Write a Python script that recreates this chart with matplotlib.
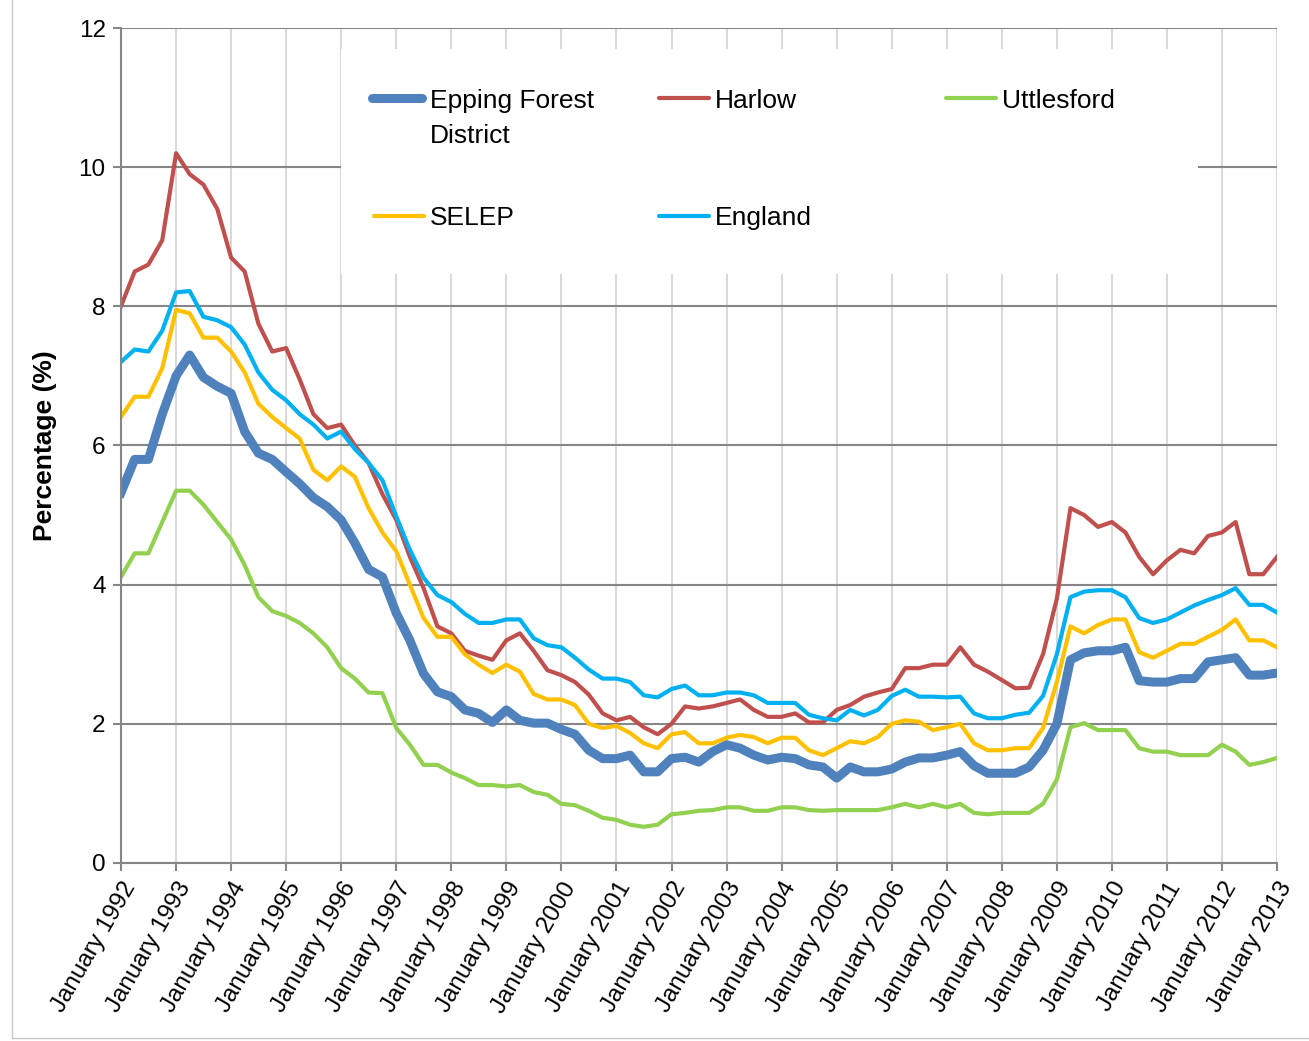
import numpy as np
import pandas as pd
import matplotlib
matplotlib.use('Agg')
import matplotlib.pyplot as plt
import matplotlib.dates as mdates
from matplotlib.patches import Rectangle

plt.rcParams['font.family'] = ['Liberation Sans', 'DejaVu Sans']

# quarterly readings, Jan 1992 .. Jan 2013
dates = pd.date_range('1992-01-01', '2013-01-01', freq='QS')

epping = [5.32, 5.8, 5.8, 6.45, 7.0, 7.3, 6.98, 6.85, 6.75, 6.2,
          5.89, 5.8, 5.62, 5.45, 5.25, 5.12, 4.93, 4.6, 4.22, 4.11,
          3.59, 3.2, 2.72, 2.46, 2.39, 2.2, 2.15, 2.02, 2.2, 2.05,
          2.01, 2.01, 1.92, 1.85, 1.62, 1.5, 1.5, 1.55, 1.31, 1.31,
          1.5, 1.52, 1.45, 1.6, 1.7, 1.65, 1.55, 1.48, 1.52, 1.5,
          1.41, 1.38, 1.22, 1.38, 1.31, 1.31, 1.35, 1.45, 1.51, 1.51,
          1.55, 1.6, 1.4, 1.29, 1.29, 1.29, 1.38, 1.62, 2.0, 2.92,
          3.02, 3.05, 3.05, 3.1, 2.62, 2.6, 2.6, 2.65, 2.65, 2.89,
          2.92, 2.95, 2.7, 2.7, 2.73]

harlow = [8.0, 8.5, 8.6, 8.95, 10.2, 9.9, 9.75, 9.4, 8.7, 8.5,
          7.75, 7.35, 7.4, 6.95, 6.45, 6.25, 6.3, 6.0, 5.75, 5.3,
          4.93, 4.4, 3.95, 3.4, 3.3, 3.05, 2.98, 2.92, 3.2, 3.3,
          3.05, 2.77, 2.7, 2.6, 2.42, 2.15, 2.05, 2.1, 1.95, 1.85,
          2.0, 2.25, 2.22, 2.25, 2.3, 2.35, 2.2, 2.1, 2.1, 2.15,
          2.02, 2.02, 2.2, 2.27, 2.39, 2.45, 2.5, 2.8, 2.8, 2.85,
          2.85, 3.1, 2.85, 2.75, 2.63, 2.51, 2.52, 3.0, 3.8, 5.1,
          5.0, 4.83, 4.9, 4.75, 4.4, 4.15, 4.35, 4.5, 4.45, 4.7,
          4.75, 4.9, 4.15, 4.15, 4.4]

uttlesford = [4.11, 4.45, 4.45, 4.9, 5.35, 5.35, 5.15, 4.9, 4.65, 4.28,
              3.82, 3.62, 3.55, 3.45, 3.3, 3.1, 2.8, 2.65, 2.45, 2.44,
              1.94, 1.7, 1.41, 1.41, 1.3, 1.22, 1.12, 1.12, 1.1, 1.12,
              1.02, 0.98, 0.85, 0.83, 0.75, 0.65, 0.62, 0.55, 0.52, 0.55,
              0.7, 0.72, 0.75, 0.76, 0.8, 0.8, 0.75, 0.75, 0.8, 0.8,
              0.76, 0.75, 0.76, 0.76, 0.76, 0.76, 0.8, 0.85, 0.8, 0.85,
              0.8, 0.85, 0.72, 0.7, 0.72, 0.72, 0.72, 0.85, 1.2, 1.95,
              2.01, 1.91, 1.91, 1.91, 1.65, 1.6, 1.6, 1.55, 1.55, 1.55,
              1.7, 1.6, 1.41, 1.45, 1.51]

selep = [6.41, 6.7, 6.7, 7.11, 7.95, 7.9, 7.55, 7.55, 7.35, 7.05,
         6.6, 6.41, 6.25, 6.1, 5.65, 5.5, 5.7, 5.55, 5.1, 4.75,
         4.48, 4.0, 3.52, 3.25, 3.25, 3.0, 2.85, 2.73, 2.85, 2.75,
         2.43, 2.35, 2.35, 2.27, 2.0, 1.94, 1.97, 1.87, 1.72, 1.65,
         1.85, 1.88, 1.72, 1.72, 1.8, 1.84, 1.81, 1.72, 1.8, 1.8,
         1.62, 1.55, 1.65, 1.75, 1.72, 1.81, 2.0, 2.05, 2.03, 1.91,
         1.95, 2.0, 1.72, 1.62, 1.62, 1.65, 1.65, 1.94, 2.6, 3.4,
         3.3, 3.42, 3.5, 3.5, 3.03, 2.95, 3.05, 3.15, 3.15, 3.25,
         3.35, 3.5, 3.2, 3.2, 3.1]

england = [7.2, 7.38, 7.35, 7.65, 8.2, 8.22, 7.85, 7.8, 7.7, 7.45,
           7.05, 6.8, 6.65, 6.45, 6.3, 6.1, 6.2, 5.95, 5.75, 5.5,
           4.98, 4.5, 4.1, 3.85, 3.75, 3.58, 3.45, 3.45, 3.5, 3.5,
           3.23, 3.13, 3.1, 2.95, 2.78, 2.65, 2.65, 2.6, 2.41, 2.38,
           2.5, 2.55, 2.41, 2.41, 2.45, 2.45, 2.41, 2.3, 2.3, 2.3,
           2.13, 2.08, 2.05, 2.2, 2.12, 2.2, 2.4, 2.49, 2.39, 2.39,
           2.38, 2.39, 2.15, 2.08, 2.08, 2.13, 2.16, 2.4, 3.0, 3.82,
           3.9, 3.92, 3.92, 3.82, 3.52, 3.45, 3.5, 3.6, 3.7, 3.78,
           3.85, 3.95, 3.71, 3.71, 3.6]

series = [('Epping Forest\nDistrict', epping, '#4F81BD', 6.5),
          ('Harlow', harlow, '#C0504D', 3.0),
          ('Uttlesford', uttlesford, '#92D050', 3.0),
          ('SELEP', selep, '#FFC000', 3.0),
          ('England', england, '#00B0F0', 3.0)]

fig = plt.figure(figsize=(13.09, 10.41), dpi=100)
ax = fig.add_axes([0.0924, 0.171, 0.8832, 0.8021])

for name, vals, col, lw in series:
    ax.plot(dates, vals, color=col, lw=lw, solid_joinstyle='round', zorder=2)

ax.set_ylim(0, 12)
ax.set_yticks(np.arange(0, 13, 2))
ax.set_xlim(pd.Timestamp('1992-01-01'), pd.Timestamp('2013-01-01'))
ax.xaxis.set_major_locator(mdates.YearLocator(1, month=1, day=1))
ax.xaxis.set_major_formatter(mdates.DateFormatter('%B %Y'))
plt.setp(ax.get_xticklabels(), rotation=60, ha='right', rotation_mode='anchor')

ax.set_axisbelow(True)
ax.grid(axis='y', color='#868686', lw=1.5)
ax.grid(axis='x', color='#d9d9d9', lw=1.5)
for s in ['top', 'right']:
    ax.spines[s].set_visible(False)
for s in ['left', 'bottom']:
    ax.spines[s].set_color('#868686')
    ax.spines[s].set_linewidth(1.5)
ax.tick_params(direction='out', length=6, width=1.5, color='#868686',
               labelsize=17.5, pad=5)

ax.set_ylabel('Percentage (%)', fontsize=19, fontweight='bold')
ax.yaxis.set_label_coords(-0.055, 0.5)

# legend drawn by hand so rows line up like the original
ax.add_patch(Rectangle((0.19, 0.705), 0.742, 0.27, transform=ax.transAxes,
                       facecolor='white', edgecolor='none', zorder=3))
# (handle start, text x, y) in axes fractions
leg_pos = [(0.2171, 0.2673, 0.916), (0.4654, 0.5138, 0.916),
           (0.7137, 0.7621, 0.916), (0.2189, 0.2673, 0.775),
           (0.4654, 0.5138, 0.775)]
for (name, vals, col, lw), (hx, tx, ly) in zip(series, leg_pos):
    ax.plot([hx, hx + 0.043], [ly, ly], color=col, lw=lw,
            solid_capstyle='round', transform=ax.transAxes, zorder=4)
    for i, part in enumerate(name.split('\n')):
        ax.text(tx, ly - i * 0.042, part, transform=ax.transAxes,
                fontsize=19, va='center_baseline', ha='left', zorder=4)

fig.patches.append(Rectangle((0.0092, 0.003), 1.0, 1.0, transform=fig.transFigure,
                             fill=False, edgecolor='#c8c8c8', lw=1))

fig.savefig('out.png', dpi=100)
